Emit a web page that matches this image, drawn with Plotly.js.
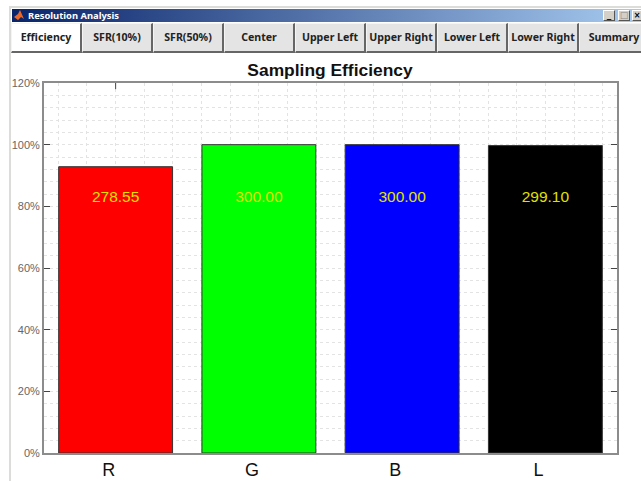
<!DOCTYPE html>
<html>
<head>
<meta charset="utf-8">
<title>Resolution Analysis</title>
<script src="https://cdn.plot.ly/plotly-3.0.1.min.js"></script>
<style>
  html, body { margin: 0; padding: 0; background: #fff; overflow: hidden; }
  #stage { position: relative; width: 641px; height: 481px; overflow: hidden; }
  #chart { position: absolute; left: 0; top: 0; width: 641px; height: 481px; }
  .edge { position: absolute; background: #dcdcd8; }
  #titlebar {
    position: absolute; left: 12px; top: 9px; width: 629px; height: 13px;
    background: linear-gradient(to right, #0a246a 0%, #a6caf0 100%);
    color: #fff; font: bold 9.4px/13px "Noto Sans", sans-serif;
  }
  #titlebar .name { position: absolute; left: 16px; top: 0; }
  #titlebar svg { position: absolute; left: 2px; top: 1px; }
  .winbtn {
    position: absolute; top: 1px; width: 12px; height: 11px; box-sizing: border-box;
    background: #d4d0c8; border: 1px solid; border-color: #fff #555 #555 #fff;
    color: #000; font: bold 9px/9px "DejaVu Sans", sans-serif; text-align: center;
  }
  .tab {
    position: absolute; top: 23px; height: 30px; box-sizing: border-box;
    background: #e4e4e4; color: #222;
    border-left: 1px solid #f4f4f4; border-top: 1px solid #f4f4f4;
    border-right: 2px solid #666; border-bottom: 2px solid #666;
    font: bold 10.6px/27px "Noto Sans", sans-serif;
    text-align: center; white-space: nowrap;
  }
  .tab.active { background: #fff; }
</style>
</head>
<body>
<div id="stage">
  <div id="chart"></div>
  <div class="edge" style="left:9px;top:6px;width:632px;height:2px"></div>
  <div class="edge" style="left:9px;top:6px;width:2px;height:475px"></div>
  <div id="titlebar">
    <svg width="11" height="11" viewBox="0 0 11 11"><path d="M0 7 L4 4 L6 0 L10 9 L7 7 L4 10 Z" fill="#e8682a"/></svg>
    <span class="name">Resolution Analysis</span>
    <div class="winbtn" style="left:591px">_</div>
    <div class="winbtn" style="left:606px;color:#888">□</div>
    <div class="winbtn" style="left:620px;width:9px;border-right:0;font-size:8px">×</div>
  </div>
  <div id="tabs"></div>
</div>
<script>
// Tab strip of the analysis window
const tabNames = ['Efficiency', 'SFR(10%)', 'SFR(50%)', 'Center', 'Upper Left',
                  'Upper Right', 'Lower Left', 'Lower Right', 'Summary'];

// Sampling efficiency per channel
const channels = ['R', 'G', 'B', 'L'];
const efficiencyPercent = [92.85, 100, 100, 99.7];
const channelValueLabels = ['278.55', '300.00', '300.00', '299.10'];
const barColors = ['#ff0000', '#00ff00', '#0000ff', '#000000'];
const yTicks = [0, 20, 40, 60, 80, 100, 120];

const tabHost = document.getElementById('tabs');
tabNames.forEach((name, i) => {
  const el = document.createElement('div');
  el.className = 'tab' + (i === 0 ? ' active' : '');
  el.textContent = name;
  el.style.left = (11 + i * 71) + 'px';
  el.style.width = '71px';
  tabHost.appendChild(el);
});

const positions = channels.map((_, i) => i + 1);
const labelLevel = channels.map(() => 82.7);

const traces = [
  {
    type: 'bar',
    x: positions,
    y: efficiencyPercent,
    width: 0.795,
    marker: { color: barColors, line: { color: '#333333', width: 1 } },
    hoverinfo: 'skip'
  },
  {
    type: 'scatter',
    mode: 'text',
    x: positions,
    y: labelLevel,
    text: channelValueLabels,
    textposition: 'middle center',
    textfont: { family: 'Liberation Sans, Arial, sans-serif', size: 15.5, color: '#e0e000' },
    hoverinfo: 'skip'
  }
];

const layout = {
  width: 641,
  height: 481,
  margin: { l: 44, r: 24, t: 83, b: 28, pad: 0 },
  paper_bgcolor: '#ffffff',
  plot_bgcolor: '#ffffff',
  showlegend: false,
  font: { family: 'Liberation Sans, Arial, sans-serif' },
  title: {
    text: '<b>Sampling Efficiency</b>',
    font: { family: 'Liberation Sans, Arial, sans-serif', size: 17.4, color: '#111111' },
    xref: 'container', yref: 'container',
    x: 330 / 641, xanchor: 'center',
    y: 1 - 70 / 481, yanchor: 'middle'
  },
  xaxis: {
    range: [0.5, 4.5],
    tickmode: 'array',
    tickvals: positions,
    ticktext: channels,
    ticks: '',
    ticklabelshift: -7,
    ticklabelstandoff: -1,
    tickfont: { size: 18, color: '#111111' },
    showline: true, linecolor: '#8c8c8c', linewidth: 2, mirror: true,
    showgrid: true, gridcolor: '#e3e3e3', griddash: 'dot', gridwidth: 1,
    minor: { dtick: 0.2, tick0: 0.6, showgrid: true, gridcolor: '#e3e3e3', griddash: 'dot', gridwidth: 1, ticks: '' },
    zeroline: false,
    fixedrange: true
  },
  yaxis: {
    range: [0, 120],
    tickmode: 'array',
    tickvals: yTicks,
    ticktext: yTicks.map(v => v + '%'),
    ticks: 'inside', ticklen: 6, tickwidth: 1, tickcolor: '#444444',
    tickfont: { size: 11, color: '#666666' },
    showline: true, linecolor: '#8c8c8c', linewidth: 2, mirror: 'ticks',
    showgrid: false,
    minor: { dtick: 4, tick0: 0, showgrid: true, gridcolor: '#e3e3e3', griddash: 'dot', gridwidth: 1, ticks: '' },
    zeroline: false,
    fixedrange: true
  },
  shapes: [
    // Lone tick on the top edge above the first channel
    { type: 'line', xref: 'x', yref: 'y', x0: 1, x1: 1, y0: 118, y1: 120, line: { color: '#444444', width: 1 } }
  ]
};

Plotly.newPlot('chart', traces, layout, { displayModeBar: false, staticPlot: true });
</script>
</body>
</html>
